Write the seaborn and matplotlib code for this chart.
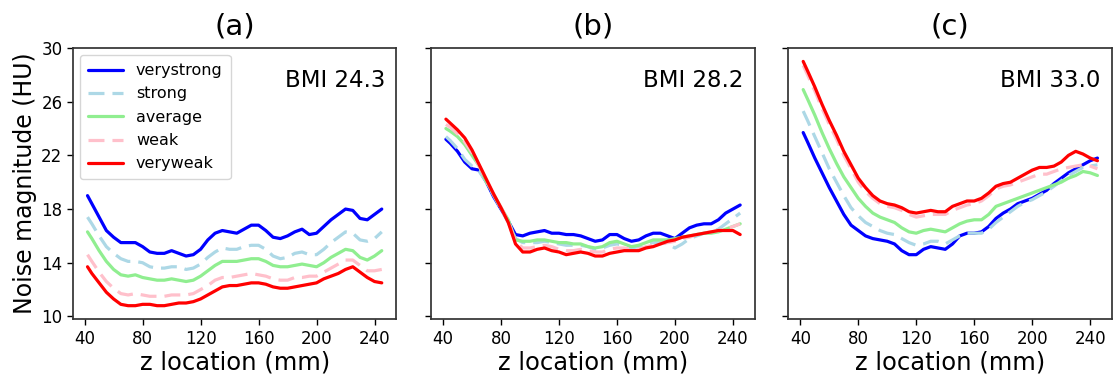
import matplotlib
matplotlib.use("Agg")
import matplotlib.pyplot as plt
import seaborn as sns

# z location (mm)
z = [42, 45, 50, 55, 60, 65, 70, 75, 80, 85, 90, 95, 100, 105, 110, 115, 120, 125, 130,
     135, 140, 145, 150, 155, 160, 165, 170, 175, 180, 185, 190, 195, 200, 205, 210, 215,
     220, 225, 230, 235, 240, 245]

levels = ["verystrong", "strong", "average", "weak", "veryweak"]
panel_titles = ["(a)", "(b)", "(c)"]
bmi_labels = ["BMI 24.3", "BMI 28.2", "BMI 33.0"]

# panel (a) BMI 24.3
a_verystrong = [19.0, 18.4, 17.4, 16.4, 15.9, 15.5, 15.5, 15.5, 15.2, 14.8, 14.7, 14.7, 14.9, 14.7,
                14.5, 14.6, 15.0, 15.7, 16.2, 16.4, 16.3, 16.2, 16.5, 16.8, 16.8, 16.4, 15.9, 15.8,
                16.0, 16.3, 16.5, 16.1, 16.2, 16.7, 17.2, 17.6, 18.0, 17.9, 17.3, 17.2, 17.6, 18.0]
a_strong = [17.4, 16.9, 16.0, 15.2, 14.7, 14.3, 14.1, 14.1, 14.0, 13.7, 13.6, 13.6, 13.7, 13.7,
            13.5, 13.6, 13.9, 14.4, 14.8, 15.1, 15.0, 15.0, 15.2, 15.3, 15.3, 15.0, 14.5, 14.3,
            14.4, 14.7, 14.8, 14.6, 14.6, 15.0, 15.5, 15.9, 16.3, 16.2, 15.7, 15.6, 15.8, 16.3]
a_average = [16.3, 15.8, 14.9, 14.1, 13.5, 13.1, 13.0, 13.1, 12.9, 12.8, 12.7, 12.7, 12.8, 12.7,
             12.6, 12.7, 13.0, 13.4, 13.8, 14.1, 14.1, 14.1, 14.2, 14.3, 14.3, 14.1, 13.8, 13.7,
             13.7, 13.8, 13.9, 13.8, 13.7, 14.0, 14.4, 14.7, 15.0, 14.9, 14.4, 14.2, 14.5, 14.9]
a_weak = [14.6, 14.1, 13.3, 12.6, 12.1, 11.7, 11.6, 11.7, 11.6, 11.5, 11.5, 11.5, 11.6, 11.6,
          11.6, 11.7, 12.0, 12.3, 12.7, 12.9, 12.9, 13.0, 13.1, 13.2, 13.1, 13.0, 12.8, 12.7,
          12.7, 12.9, 12.9, 13.0, 13.0, 13.3, 13.6, 13.9, 14.2, 14.2, 13.8, 13.4, 13.4, 13.5]
a_veryweak = [13.7, 13.2, 12.5, 11.8, 11.3, 10.9, 10.8, 10.8, 10.9, 10.9, 10.8, 10.8, 10.9, 11.0,
              11.0, 11.1, 11.3, 11.6, 11.9, 12.2, 12.3, 12.3, 12.4, 12.5, 12.5, 12.4, 12.2, 12.1,
              12.1, 12.2, 12.3, 12.4, 12.5, 12.8, 13.0, 13.2, 13.5, 13.7, 13.3, 12.9, 12.6, 12.5]

# panel (b) BMI 28.2
b_verystrong = [23.2, 22.9, 22.3, 21.5, 21.0, 20.9, 20.0, 18.9, 18.0, 17.1, 16.1, 16.0, 16.2, 16.3,
                16.4, 16.2, 16.2, 16.1, 16.1, 16.0, 15.8, 15.6, 15.7, 16.1, 16.1, 15.8, 15.6, 15.7,
                16.0, 16.2, 16.2, 16.0, 15.8, 16.2, 16.6, 16.8, 16.9, 16.9, 17.2, 17.7, 18.0, 18.3]
b_strong = [23.4, 23.1, 22.5, 21.7, 21.2, 20.8, 20.0, 19.0, 18.0, 17.0, 15.8, 15.5, 15.5, 15.5,
            15.6, 15.5, 15.4, 15.3, 15.3, 15.3, 15.2, 15.0, 15.1, 15.3, 15.4, 15.3, 15.1, 15.2,
            15.4, 15.5, 15.5, 15.4, 15.1, 15.4, 15.8, 16.0, 16.2, 16.3, 16.5, 16.9, 17.3, 17.7]
b_average = [24.0, 23.8, 23.4, 22.8, 22.0, 21.2, 20.0, 19.1, 18.1, 17.2, 15.7, 15.6, 15.6, 15.7,
             15.7, 15.6, 15.5, 15.5, 15.4, 15.4, 15.2, 15.1, 15.2, 15.5, 15.6, 15.4, 15.2, 15.3,
             15.5, 15.7, 15.7, 15.7, 15.8, 15.9, 16.0, 16.1, 16.2, 16.2, 16.3, 16.5, 16.7, 16.9]
b_weak = [24.3, 24.1, 23.6, 23.0, 22.2, 21.2, 20.1, 19.1, 18.1, 17.1, 15.6, 15.1, 15.1, 15.2,
          15.3, 15.2, 15.0, 14.9, 14.9, 15.0, 14.9, 14.8, 14.8, 15.0, 15.1, 15.1, 15.0, 15.0,
          15.2, 15.3, 15.4, 15.5, 15.6, 15.8, 15.9, 16.1, 16.2, 16.3, 16.4, 16.5, 16.7, 16.9]
b_veryweak = [24.7, 24.4, 23.9, 23.3, 22.4, 21.3, 20.2, 19.1, 18.1, 17.0, 15.4, 14.8, 14.8, 15.0,
              15.1, 14.9, 14.8, 14.6, 14.7, 14.8, 14.7, 14.5, 14.5, 14.7, 14.8, 14.9, 14.9, 14.9,
              15.1, 15.2, 15.4, 15.6, 15.7, 15.9, 16.0, 16.1, 16.2, 16.3, 16.4, 16.4, 16.4, 16.1]

# panel (c) BMI 33.0
c_verystrong = [23.7, 23.0, 21.8, 20.7, 19.6, 18.6, 17.6, 16.8, 16.4, 16.0, 15.8, 15.7, 15.6, 15.4,
                14.9, 14.6, 14.6, 15.0, 15.2, 15.1, 15.0, 15.4, 16.0, 16.2, 16.2, 16.3, 16.7, 17.3,
                17.7, 18.0, 18.4, 18.6, 18.8, 19.1, 19.4, 19.9, 20.3, 20.7, 21.0, 21.3, 21.6, 21.8]
c_strong = [25.3, 24.6, 23.4, 22.2, 21.0, 20.0, 19.0, 18.1, 17.5, 17.0, 16.7, 16.4, 16.2, 16.1,
            15.8, 15.5, 15.3, 15.4, 15.6, 15.6, 15.4, 15.7, 16.0, 16.2, 16.2, 16.2, 16.5, 17.0,
            17.4, 17.8, 18.2, 18.5, 18.7, 19.0, 19.3, 19.7, 20.1, 20.5, 20.8, 21.1, 21.2, 21.3]
c_average = [26.9, 26.2, 25.0, 23.7, 22.5, 21.4, 20.4, 19.6, 18.8, 18.2, 17.7, 17.4, 17.2, 17.0,
             16.6, 16.3, 16.2, 16.4, 16.5, 16.4, 16.3, 16.6, 16.9, 17.1, 17.2, 17.2, 17.6, 18.2,
             18.4, 18.6, 18.8, 19.0, 19.2, 19.4, 19.6, 19.8, 20.0, 20.3, 20.5, 20.8, 20.7, 20.5]
c_weak = [28.7, 28.0, 26.8, 25.5, 24.3, 23.2, 22.0, 21.0, 20.0, 19.3, 18.8, 18.4, 18.2, 18.1,
          17.9, 17.6, 17.4, 17.5, 17.6, 17.6, 17.6, 17.9, 18.1, 18.3, 18.4, 18.6, 19.0, 19.5,
          19.7, 19.8, 20.0, 20.2, 20.4, 20.6, 20.6, 20.8, 21.0, 21.1, 21.2, 21.3, 21.2, 21.0]
c_veryweak = [29.0, 28.3, 27.1, 25.8, 24.6, 23.5, 22.3, 21.3, 20.3, 19.6, 19.0, 18.6, 18.4, 18.3,
              18.1, 17.8, 17.7, 17.8, 17.9, 17.8, 17.8, 18.2, 18.4, 18.6, 18.6, 18.8, 19.2, 19.7,
              19.9, 20.0, 20.3, 20.6, 20.9, 21.1, 21.1, 21.2, 21.5, 22.0, 22.3, 22.1, 21.8, 21.6]

panels = [
    [a_verystrong, a_strong, a_average, a_weak, a_veryweak],
    [b_verystrong, b_strong, b_average, b_weak, b_veryweak],
    [c_verystrong, c_strong, c_average, c_weak, c_veryweak],
]

colors = ["blue", "lightblue", "lightgreen", "pink", "red"]
styles = ["-", (0, (5, 2.5)), "-", (0, (5, 2.5)), "-"]

sns.set_theme(style="ticks")
plt.rcParams["font.family"] = ["DejaVu Sans"]
plt.rcParams["axes.edgecolor"] = "#333333"
plt.rcParams["text.color"] = "black"
plt.rcParams["axes.labelcolor"] = "black"
plt.rcParams["xtick.color"] = "black"
plt.rcParams["ytick.color"] = "black"

fig = plt.figure(figsize=(11.2, 3.84), dpi=100)
lefts = [0.065, 0.385, 0.704]
axes = []
for i in range(3):
    if i == 0:
        ax = fig.add_axes([lefts[i], 0.169, 0.289, 0.706])
    else:
        ax = fig.add_axes([lefts[i], 0.169, 0.289, 0.706], sharey=axes[0])
    axes.append(ax)

for i, ax in enumerate(axes):
    for j, name in enumerate(levels):
        sns.lineplot(x=z, y=panels[i][j], ax=ax, color=colors[j], linestyle=styles[j],
                     linewidth=2.3, label=name if i == 0 else None, legend=False)
    ax.set_ylim(9.8, 30)
    ax.set_yticks([10, 14, 18, 22, 26, 30])
    ax.set_xticks([40, 80, 120, 160, 200, 240])
    ax.tick_params(labelsize=12, length=4, width=1)
    ax.set_xlabel("z location (mm)", fontsize=17.5, labelpad=2)
    ax.set_title(panel_titles[i], fontsize=21, pad=9.5)
    ax.text(0.965, 0.88, bmi_labels[i], transform=ax.transAxes, ha="right", va="center",
            fontsize=16.5)
    if i > 0:
        ax.tick_params(labelleft=False)
        ax.set_ylabel("")

axes[0].set_ylabel("Noise magnitude (HU)", fontsize=17, labelpad=3)
axes[0].legend(loc="upper left", fontsize=11.5, handlelength=2.2, labelspacing=0.52,
               borderpad=0.5, frameon=True, borderaxespad=0.45)

fig.savefig("out.png", dpi=100)
